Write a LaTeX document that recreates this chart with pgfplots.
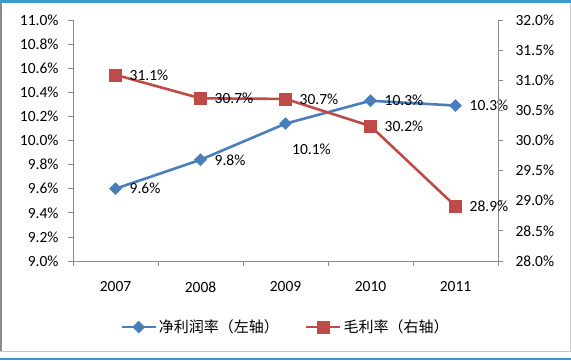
\documentclass[border=0pt]{standalone}
\usepackage{pgfplots}
\pgfplotsset{compat=1.18}
\usepackage{fontspec}
\setmainfont{Carlito}
\newfontfamily\cjk{Noto Sans CJK SC}
\definecolor{sblue}{HTML}{4A7EBB}
\definecolor{sred}{HTML}{BE4B48}
\definecolor{axgray}{HTML}{8C8C8C}
\definecolor{barblue}{HTML}{3D9AD1}
\pgfplotstableread{
x y
1 9.60
2 9.84
3 10.14
4 10.33
5 10.29
}\netdata
\pgfplotstableread{
x y
1 31.09
2 30.70
3 30.69
4 30.24
5 28.91
}\grossdata
\pgfplotsset{
  common/.style={
    at={(73pt,99pt)}, anchor=south west, scale only axis,
    width=425pt, height=241pt,
    xmin=0.5, xmax=5.5,
    axis line style={-, draw=axgray, line width=0.8pt},
    tick style={draw=axgray, line width=0.8pt},
    tick align=outside,
    major tick length=5pt,
    tick label style={font=\fontsize{15.5pt}{18pt}\selectfont, text=black},
    /pgf/number format/assume math mode=true,
    clip=false,
  },
  lbl/.style={
    draw=none, mark=none, point meta=y,
    nodes near coords={\pgfmathprintnumber[fixed,fixed zerofill,precision=1]{\pgfplotspointmeta}\%},
    every node near coord/.append style={anchor=west, xshift=13pt, inner sep=1pt,
      font=\fontsize{15.5pt}{18pt}\selectfont, text=black},
  },
}
\begin{document}
\begin{tikzpicture}
\path[use as bounding box] (0pt,0pt) rectangle (571pt,360pt);
\fill[white] (0pt,0pt) rectangle (571pt,360pt);
\fill[axgray] (0pt,8.5pt) rectangle (2.2pt,357pt);
\fill[gray!45] (569.5pt,8.5pt) rectangle (571pt,357pt);
\draw[gray!45, line width=1pt] (0pt,8.5pt) -- (571pt,8.5pt);
\fill[barblue] (0pt,0pt) rectangle (571pt,2.2pt);
\fill[barblue] (0pt,357.5pt) rectangle (571pt,360pt);

\begin{axis}[common,
  ymin=9, ymax=11,
  axis y line*=left, axis x line*=bottom,
  ytick={9,9.2,9.4,9.6,9.8,10,10.2,10.4,10.6,10.8,11},
  yticklabel={\pgfmathprintnumber[fixed,fixed zerofill,precision=1]{\tick}\%},
  yticklabel style={xshift=-6pt},
  xtick={0.5,1.5,2.5,3.5,4.5,5.5},
  x tick label as interval,
  xticklabels={2007,2008,2009,2010,2011},
  xticklabel style={yshift=-12pt},
]
\addplot[sblue, line width=2.6pt, mark=square*, mark size=4.3pt,
  mark options={rotate=45, solid, fill=sblue, draw=sblue, line width=0.3pt}] table[x=x,y=y] {\netdata};
\addplot[lbl] coordinates {(1,9.60) (2,9.84) (4,10.33) (5,10.29)};
\addplot[lbl, every node near coord/.append style={anchor=north, xshift=13pt, yshift=-19pt}] coordinates {(3,10.14)};
\end{axis}

\begin{axis}[common,
  ymin=28, ymax=32,
  axis y line*=right, axis x line=none,
  ytick={28,28.5,29,29.5,30,30.5,31,31.5,32},
  yticklabel={\pgfmathprintnumber[fixed,fixed zerofill,precision=1]{\tick}\%},
  yticklabel style={xshift=9pt},
  legend style={at={(0.5,-0.274)}, anchor=center, draw=none, fill=none,
    legend columns=2, font=\cjk\fontsize{15pt}{18pt}\selectfont,
    /tikz/every even column/.append style={column sep=24pt},
    inner sep=0pt},
  legend cell align=left,
  legend image code/.code={\draw[mark repeat=2,mark phase=2,#1] plot coordinates {(0pt,0pt) (17pt,0pt) (34pt,0pt)};},
]
\addlegendimage{sblue, line width=2.6pt, mark=square*, mark size=4.3pt,
  mark options={rotate=45, solid, fill=sblue, draw=sblue, line width=0.3pt}}
\addlegendentry{净利润率（左轴）}
\addplot[sred, line width=2.6pt, mark=square*, mark size=6pt,
  mark options={solid, fill=sred, draw=sred, line width=0.3pt}] table[x=x,y=y] {\grossdata};
\addlegendentry{毛利率（右轴）}
\addplot[lbl, forget plot] table[x=x,y=y] {\grossdata};
\end{axis}
\end{tikzpicture}
\end{document}
